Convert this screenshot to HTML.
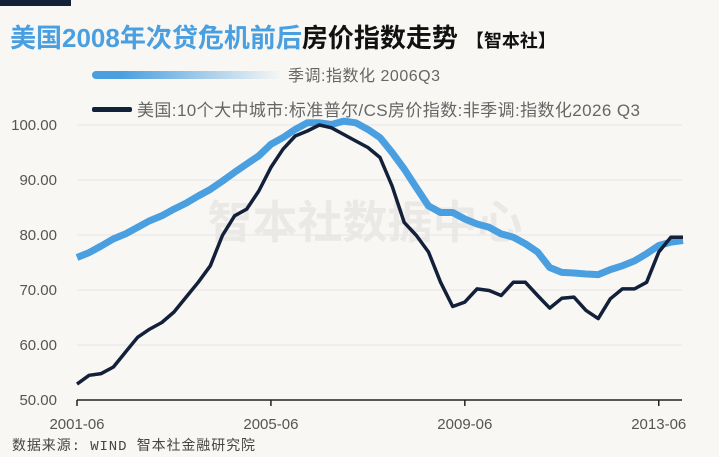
<!DOCTYPE html>
<html><head><meta charset="utf-8"><style>
body{margin:0;background:#f8f7f4;}
svg{display:block;font-family:"Liberation Sans","Noto Sans CJK SC",sans-serif;}
</style></head><body>
<svg id="c" width="719" height="457" viewBox="0 0 719 457">
<rect width="719" height="457" fill="#f8f7f4"/>
<rect x="0" y="0" width="71" height="6" fill="#13203a"/>
<text x="10" y="47" font-size="26" font-weight="bold"><tspan fill="#4a9fe0">美国2008年次贷危机前后</tspan><tspan fill="#111">房价指数走势</tspan><tspan fill="#111" font-size="18" dx="8">【智本社】</tspan></text>
<defs><linearGradient id="g" x1="0" x2="1"><stop offset="0" stop-color="#4a9fe0"/><stop offset="0.15" stop-color="#4a9fe0"/><stop offset="1" stop-color="#4a9fe0" stop-opacity="0"/></linearGradient></defs>
<rect x="92" y="71" width="190" height="8" rx="4" fill="url(#g)"/>
<text x="288" y="81" font-size="16" fill="#666" textLength="152">季调:指数化 2006Q3</text>
<rect x="92" y="107" width="40" height="5" rx="2" fill="#13203a"/>
<text x="137" y="116" font-size="17" fill="#666" textLength="503">美国:10个大中城市:标准普尔/CS房价指数:非季调:指数化2026 Q3</text>
<text x="365" y="238" font-size="45" font-weight="bold" fill="#000" fill-opacity="0.055" text-anchor="middle">智本社数据中心</text>
<g id="grid"></g><g id="ylab"></g><g id="xax"></g><g id="lines"></g>
<text x="12" y="450" font-size="14" fill="#444" textLength="243" font-family="Liberation Mono,Noto Sans CJK SC,monospace">数据来源: WIND 智本社金融研究院</text>
</svg>
<script>
const yTicks=[50,60,70,80,90,100];
const xTickLabels=["2001-06","2005-06","2009-06","2013-06"];
const xTickIdx=[0,16,32,48];
const seasonal=[75.9,76.8,78,79.3,80.2,81.4,82.6,83.5,84.7,85.8,87.1,88.3,89.8,91.4,92.9,94.4,96.5,97.7,99.2,100.4,100.4,100.1,100.7,100.4,99.2,97.7,95,92,88.6,85.3,84.1,84.1,82.9,82,81.4,80.2,79.6,78.4,76.9,74.1,73.2,73.1,72.9,72.8,73.7,74.4,75.3,76.6,78.1,78.7,79];
const csIndex=[52.9,54.5,54.8,56,58.7,61.4,62.9,64.1,66,68.7,71.4,74.4,79.9,83.5,84.7,88,92.3,95.6,98,98.9,100,99.5,98.3,97.1,95.9,94.1,88.9,82.3,79.9,76.9,71.4,67,67.8,70.2,69.9,69,71.4,71.4,69,66.7,68.5,68.7,66.3,64.8,68.4,70.2,70.2,71.4,76.9,79.6,79.6];
const NS='http://www.w3.org/2000/svg';
const x0=77,qW=12.12,xR=682;
const X=i=>x0+i*qW;
const Y=v=>400-(v-50)*5.5;
function mk(t,a,p){const e=document.createElementNS(NS,t);for(const k in a)e.setAttribute(k,a[k]);document.getElementById(p).appendChild(e);return e;}
yTicks.forEach(v=>{
 if(v>50){const l=mk('line',{x1:x0,x2:xR,y1:Y(v),y2:Y(v),stroke:'#e6e6e6','stroke-width':1},'grid');
 
 }
 const t=mk('text',{x:57,y:Y(v)+5,'font-size':15,fill:'#555','text-anchor':'end'},'ylab');
 t.textContent=v.toFixed(2);
 
 
});
const ax=mk('line',{x1:x0,x2:xR,y1:400,y2:400,stroke:'#222','stroke-width':1.5},'xax');


xTickLabels.forEach((s,k)=>{
 const x=X(xTickIdx[k]);
 const tk=mk('line',{x1:x,x2:x,y1:400,y2:406,stroke:'#222','stroke-width':1.5},'xax');
 
 
 const t=mk('text',{x:x,y:429,'font-size':15,fill:'#555','text-anchor':'middle'},'xax');
 t.textContent=s;
 
 
});
function path(arr){return arr.map((v,i)=>(i?'L':'M')+X(i).toFixed(1)+','+Y(v).toFixed(1)).join('');}
const p1=mk('path',{d:path(seasonal),fill:'none',stroke:'#4a9fe0','stroke-width':7,'stroke-linejoin':'round'},'lines');


const p2=mk('path',{d:path(csIndex),fill:'none',stroke:'#13203a','stroke-width':3.5,'stroke-linejoin':'round'},'lines');


</script>
</body></html>
